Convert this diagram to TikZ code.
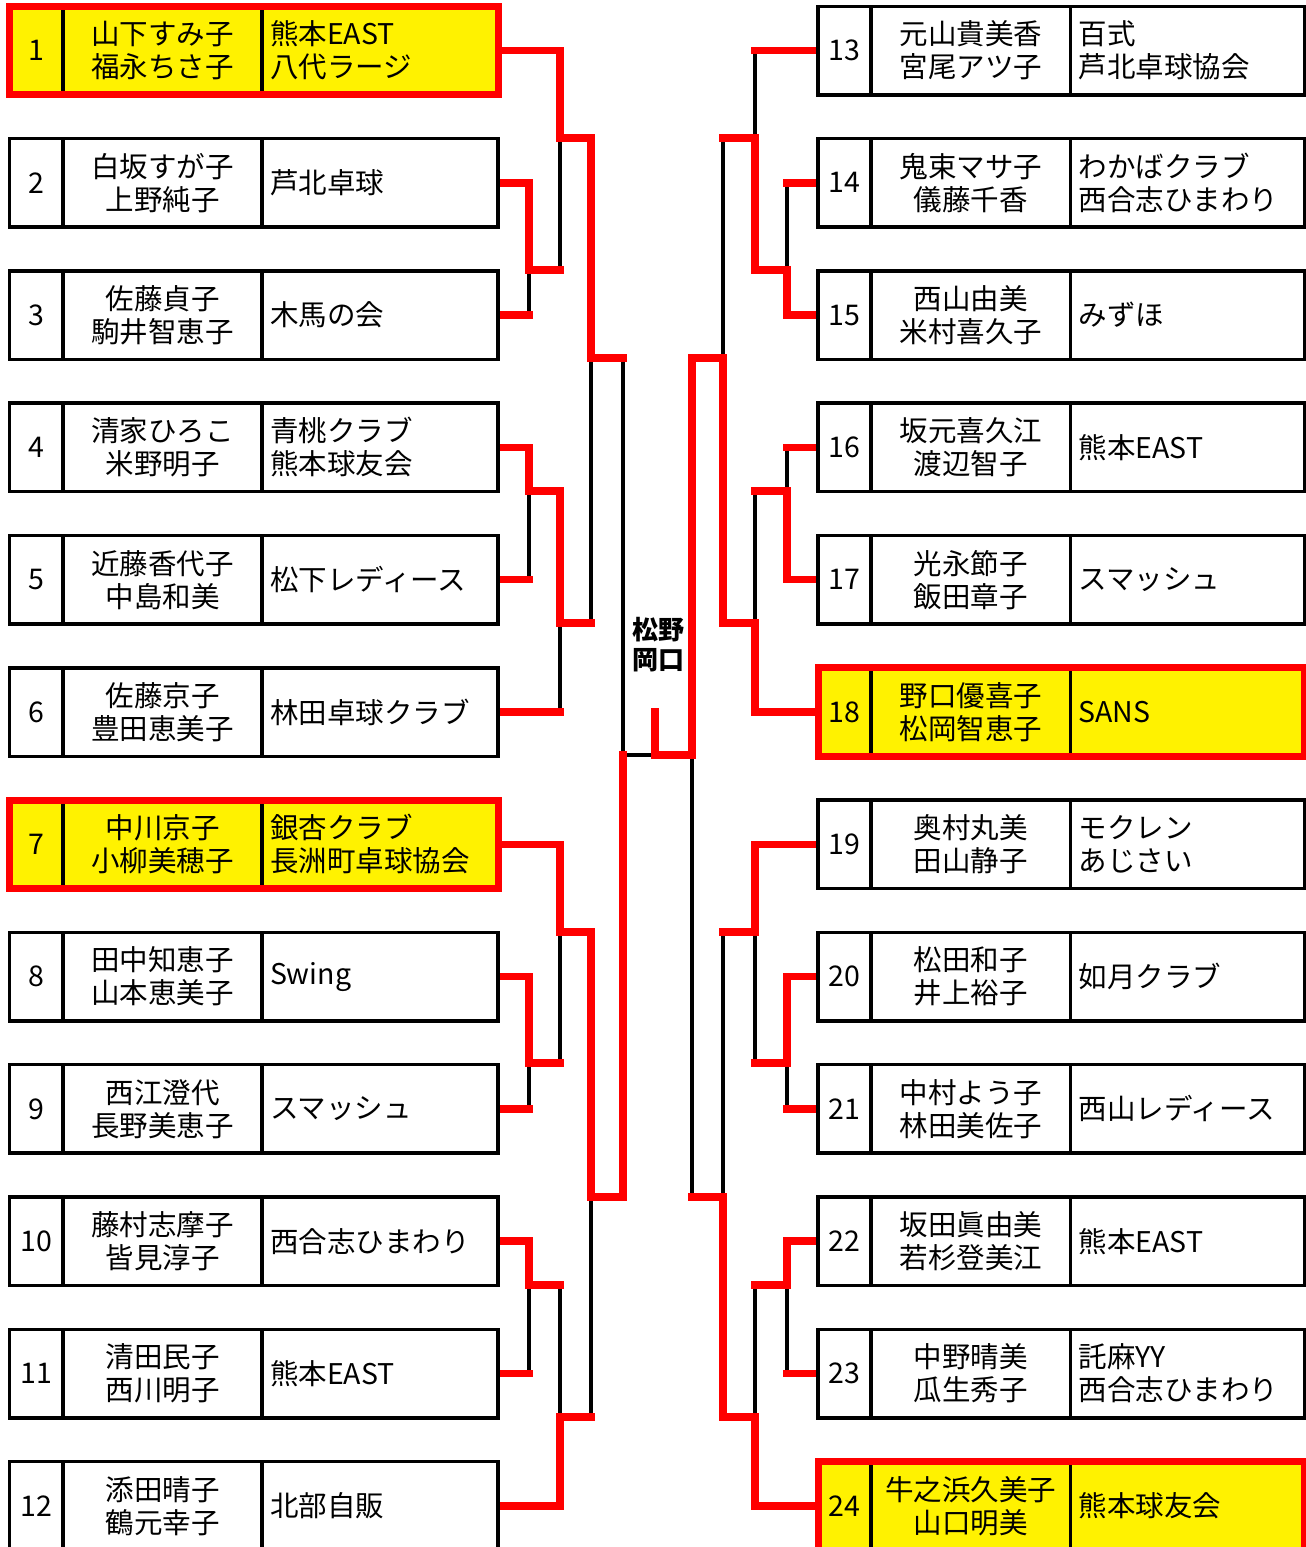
\documentclass[tikz,border=0pt]{standalone}
\usepackage{fontspec}
\setmainfont{Noto Sans CJK JP}
\usetikzlibrary{positioning,fit,backgrounds}

\begin{document}
\begin{tikzpicture}[
    x=1pt, y=-1pt,
    cell/.style={draw=black, line width=3.5pt, outer sep=0pt, inner sep=0pt,
      minimum height=88.5pt, font=\fontsize{28.5}{33}\selectfont},
    num/.style={cell, minimum width=53.5pt},
    pair/.style={cell, minimum width=199pt, align=center},
    club/.style={cell, inner xsep=8pt, text width=220pt, align=left},
    seed/.style={draw=red, line width=7pt, inner sep=0pt},
    lose/.style={black, line width=4pt},
    win/.style={red, line width=7.5pt, line cap=rect},
  ]
  \useasboundingbox (0,0) rectangle (1306,1547);

  % left half of the draw
  \foreach \i/\fc/\pl/\cl [evaluate=\i as \yy using 50.5+132.3*(\i-1)] in {
      1/yellow/{山下すみ子\\福永ちさ子}/{熊本EAST\\八代ラージ},
      2/white/{白坂すが子\\上野純子}/{芦北卓球},
      3/white/{佐藤貞子\\駒井智恵子}/{木馬の会},
      4/white/{清家ひろこ\\米野明子}/{青桃クラブ\\熊本球友会},
      5/white/{近藤香代子\\中島和美}/{松下レディース},
      6/white/{佐藤京子\\豊田恵美子}/{林田卓球クラブ},
      7/yellow/{中川京子\\小柳美穂子}/{銀杏クラブ\\長洲町卓球協会},
      8/white/{田中知恵子\\山本恵美子}/{Swing},
      9/white/{西江澄代\\長野美恵子}/{スマッシュ},
      10/white/{藤村志摩子\\皆見淳子}/{西合志ひまわり},
      11/white/{清田民子\\西川明子}/{熊本EAST},
      12/white/{添田晴子\\鶴元幸子}/{北部自販}} {
    \node[num, fill=\fc] (n\i) at (36.25,\yy) {\i};
    \node[pair, fill=\fc, right=0pt of n\i] (p\i) {\pl};
    \node[club, fill=\fc, right=0pt of p\i] (c\i) {\cl};
  }

  % right half of the draw
  \foreach \i/\fc/\pl/\cl [evaluate=\i as \yy using 50.5+132.3*(\i-13)] in {
      13/white/{元山貴美香\\宮尾アツ子}/{百式\\芦北卓球協会},
      14/white/{鬼束マサ子\\儀藤千香}/{わかばクラブ\\西合志ひまわり},
      15/white/{西山由美\\米村喜久子}/{みずほ},
      16/white/{坂元喜久江\\渡辺智子}/{熊本EAST},
      17/white/{光永節子\\飯田章子}/{スマッシュ},
      18/yellow/{野口優喜子\\松岡智恵子}/{SANS},
      19/white/{奥村丸美\\田山静子}/{モクレン\\あじさい},
      20/white/{松田和子\\井上裕子}/{如月クラブ},
      21/white/{中村よう子\\林田美佐子}/{西山レディース},
      22/white/{坂田眞由美\\若杉登美江}/{熊本EAST},
      23/white/{中野晴美\\瓜生秀子}/{託麻YY\\西合志ひまわり},
      24/yellow/{牛之浜久美子\\山口明美}/{熊本球友会}} {
    \node[num, fill=\fc, minimum width=53pt] (n\i) at (844.5,\yy) {\i};
    \node[pair, fill=\fc, minimum width=199.5pt, right=0pt of n\i] (p\i) {\pl};
    \node[club, fill=\fc, text width=218pt, right=0pt of p\i] (c\i) {\cl};
  }

  \node[seed, fit=(n1)(c1)] (s1) {};
  \node[seed, fit=(n7)(c7)] (s7) {};
  \node[seed, fit=(n18)(c18)] (s18) {};
  \node[seed, fit=(n24)(c24)] (s24) {};

  \node[font=\fontsize{26}{30}\selectfont\bfseries, align=center]
    (champ) at (658,645) {松野\\岡口};

  % junctions (j) and outputs (o)
  \coordinate (jA) at (529,270);  \coordinate (oA) at (560,270);
  \coordinate (jB) at (560,138);  \coordinate (oB) at (591,138);
  \coordinate (jC) at (529,491);  \coordinate (oC) at (560,491);
  \coordinate (jD) at (560,623);  \coordinate (oD) at (591,623);
  \coordinate (jE) at (591,358);  \coordinate (oE) at (623,358);
  \coordinate (jF) at (529,1063); \coordinate (oF) at (560,1063);
  \coordinate (jG) at (560,932);  \coordinate (oG) at (591,932);
  \coordinate (jH) at (529,1285); \coordinate (oH) at (560,1285);
  \coordinate (jI) at (560,1417); \coordinate (oI) at (591,1417);
  \coordinate (jJ) at (591,1197); \coordinate (oJ) at (623,1197);
  \coordinate (jK) at (623,755);
  \coordinate (jP) at (787,270);  \coordinate (oP) at (755,270);
  \coordinate (jQ) at (755,138);  \coordinate (oQ) at (723,138);
  \coordinate (jR) at (787,491);  \coordinate (oR) at (755,491);
  \coordinate (jS) at (755,623);  \coordinate (oS) at (723,623);
  \coordinate (jT) at (723,358);  \coordinate (oT) at (692,358);
  \coordinate (jU) at (787,1063); \coordinate (oU) at (755,1063);
  \coordinate (jV) at (755,932);  \coordinate (oV) at (723,932);
  \coordinate (jW) at (787,1285); \coordinate (oW) at (755,1285);
  \coordinate (jX) at (755,1417); \coordinate (oX) at (723,1417);
  \coordinate (jY) at (723,1197); \coordinate (oY) at (692,1197);
  \coordinate (jZ) at (692,755);
  \coordinate (fin) at (655,755);
  \coordinate (top) at (655,712);

  \begin{scope}[on background layer]
    % bracket
    \draw[lose] (c2.east) -| (jA) |- (c3.east);
    \draw[lose] (c1.east) -| (oA);
    \draw[lose] (c4.east) -| (jC) |- (c5.east);
    \draw[lose] (oC) |- (c6.east);
    \draw[lose] (oB) -- (oD);
    \draw[lose] (c8.east) -| (jF) |- (c9.east);
    \draw[lose] (c7.east) -| (oF);
    \draw[lose] (c10.east) -| (jH) |- (c11.east);
    \draw[lose] (oH) |- (c12.east);
    \draw[lose] (oG) -- (oI);
    \draw[lose] (oE) -- (oJ);
    \draw[lose] (jK) -- (jZ);
    \draw[lose] (n14.west) -| (jP) |- (n15.west);
    \draw[lose] (n13.west) -| (oP);
    \draw[lose] (n16.west) -| (jR) |- (n17.west);
    \draw[lose] (oR) |- (n18.west);
    \draw[lose] (oQ) -- (oS);
    \draw[lose] (n20.west) -| (jU) |- (n21.west);
    \draw[lose] (n19.west) -| (oU);
    \draw[lose] (n22.west) -| (jW) |- (n23.west);
    \draw[lose] (oW) |- (n24.west);
    \draw[lose] (oV) -- (oX);
    \draw[lose] (oT) -- (oY);

    % results
    \draw[win] (c1.east) -| (jB) -- (oB) -- (jE) -- (oE);
    \draw[win] (c2.east) -| (jA) -- (oA);
    \draw[win] (c3.east) -- (c3.east -| jA);
    \draw[win] (c4.east) -| (jC) -- (oC) -- (jD) -- (oD);
    \draw[win] (c5.east) -- (c5.east -| jC);
    \draw[win] (c6.east) -- (c6.east -| jD);
    \draw[win] (c7.east) -| (jG) -- (oG) -- (jJ) -- (oJ) -- (jK);
    \draw[win] (c8.east) -| (jF) -- (oF);
    \draw[win] (c9.east) -- (c9.east -| jF);
    \draw[win] (c10.east) -| (jH) -- (oH);
    \draw[win] (c11.east) -- (c11.east -| jH);
    \draw[win] (c12.east) -| (jI) -- (oI);
    \draw[win] (n13.west) -- (n13.west -| jQ);
    \draw[win] (n14.west) -- (n14.west -| jP);
    \draw[win] (n15.west) -| (jP) -- (oP) -- (jQ) -- (oQ);
    \draw[win] (n16.west) -- (n16.west -| jR);
    \draw[win] (n17.west) -| (jR) -- (oR);
    \draw[win] (n18.west) -| (jS) -- (oS) -- (jT) -- (oT) -- (jZ) -- (fin) -- (top);
    \draw[win] (n19.west) -| (jV) -- (oV);
    \draw[win] (n20.west) -| (jU) -- (oU);
    \draw[win] (n21.west) -- (n21.west -| jU);
    \draw[win] (n22.west) -| (jW) -- (oW);
    \draw[win] (n23.west) -- (n23.west -| jW);
    \draw[win] (n24.west) -| (jX) -- (oX) -- (jY) -- (oY);
  \end{scope}
\end{tikzpicture}
\end{document}
